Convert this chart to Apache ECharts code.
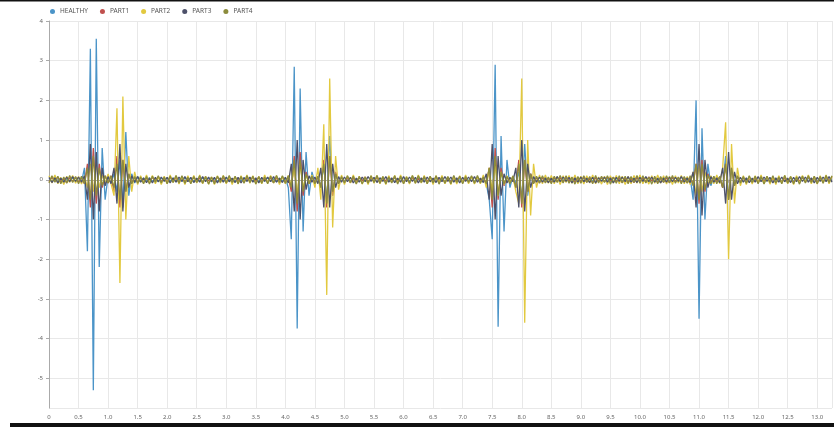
<!DOCTYPE html>
<html><head><meta charset="utf-8">
<script src="https://cdn.jsdelivr.net/npm/echarts@6/dist/echarts.min.js"></script>
<style>html,body{margin:0;padding:0;background:#fff}#c{width:834px;height:427px}</style>
</head><body><div id="c"></div>
<script>
const seriesNames = ['HEALTHY','PART1','PART2','PART3','PART4'];
const seriesColors = ['#4b94c8','#c0504d','#e2c93f','#4d516a','#8c8c3c'];
const sampleStep = 0.05; // seconds between samples, first sample at t = 0
const xTickLabels = {min:0, max:13.25, step:0.5};
const yTickLabels = {min:-5.75, max:4, step:1};

const healthy = [
.03,-.04,.05,-.02,.04,-.05,.02,-.03,.05,-.04,
.04,-.06,.3,-1.8,3.3,-5.3,3.55,-2.2,.8,-.5,
.1,-.08,.15,-.3,.5,-.7,1.2,-.4,.15,-.08,
.08,-.05,.04,-.03,.05,-.04,.03,-.05,.04,-.02,
.05,-.03,.04,-.05,.02,-.04,.05,-.03,.04,-.05,
.03,-.04,.05,-.02,.04,-.05,.03,-.04,.02,-.03,
.05,-.04,.03,-.05,.04,-.02,.05,-.03,.04,-.04,
.03,-.05,.04,-.03,.05,-.04,.02,-.05,.04,-.03,
.05,-.2,-1.5,2.85,-3.75,2.3,-1.3,.7,-.4,.2,
-.08,.06,-.15,.4,-.6,1.1,-.4,.15,-.08,.05,
-.04,.03,-.05,.04,-.03,.05,-.02,.04,-.05,.03,
-.04,.05,-.03,.04,-.05,.02,-.04,.05,-.03,.04,
-.05,.03,-.04,.05,-.02,.04,-.05,.03,-.04,.05,
-.03,.04,-.05,.02,-.04,.05,-.03,.04,-.05,.03,
-.04,.05,-.02,.04,-.05,.03,-.04,.05,-.1,-.5,
-1.5,2.9,-3.7,1.1,-1.3,.5,-.2,.1,-.1,.2,
-.5,.9,-.4,.15,-.08,.06,-.04,.05,-.03,.04,
-.05,.03,-.04,.05,-.02,.04,-.05,.03,-.04,.05,
-.03,.04,-.05,.02,-.04,.05,-.03,.04,-.05,.03,
-.04,.05,-.02,.04,-.05,.03,-.04,.05,-.03,.04,
-.05,.02,-.04,.05,-.03,.04,-.05,.03,-.04,.05,
-.02,.04,-.05,.03,-.04,.05,-.03,.06,-.5,2.0,
-3.5,1.3,-1.0,.4,-.15,.08,-.06,.08,-.2,.6,
-.5,.25,-.1,.06,-.05,.04,-.03,.05,-.04,.03,
-.05,.04,-.02,.05,-.03,.04,-.05,.02,-.04,.05,
-.03,.04,-.05,.03,-.04,.05,-.02,.04,-.05,.03,
-.04,.05,-.03,.04,-.05,.03];

const part1 = [
-.05,.06,-.04,.07,-.06,.03,-.07,.05,-.04,.06,
-.06,.05,-.1,.4,-.7,.8,-.6,.4,-.2,.1,
-.08,.1,-.3,.6,-.7,.5,-.3,.15,-.08,.06,
-.07,.05,-.06,.04,-.07,.06,-.03,.07,-.05,.04,
-.06,.07,-.04,.05,-.07,.06,-.05,.03,-.06,.07,
-.05,.04,-.07,.06,-.03,.05,-.06,.07,-.04,.05,
-.07,.03,-.05,.06,-.04,.07,-.06,.05,-.03,.06,
-.04,.07,-.05,.03,-.06,.05,-.07,.04,-.05,.06,
-.06,.08,-.3,.6,-.8,.7,-.4,.2,-.1,.08,
-.07,.06,-.2,.5,-.7,.6,-.4,.2,-.1,.06,
-.06,.05,-.07,.04,-.05,.06,-.03,.07,-.06,.05,
-.04,.06,-.07,.05,-.03,.06,-.05,.07,-.04,.05,
-.06,.04,-.07,.05,-.06,.03,-.05,.07,-.04,.06,
-.05,.07,-.03,.06,-.07,.04,-.06,.05,-.04,.07,
-.06,.03,-.05,.06,-.07,.05,-.04,.06,-.1,.3,
-.7,.8,-.5,.3,-.15,.08,-.06,.05,-.2,.5,
-.7,.5,-.3,.15,-.08,.05,-.07,.05,-.06,.04,
-.07,.06,-.04,.05,-.06,.07,-.03,.05,-.06,.04,
-.05,.07,-.06,.03,-.07,.05,-.04,.06,-.05,.07,
-.03,.06,-.05,.04,-.07,.05,-.06,.03,-.07,.06,
-.04,.05,-.06,.07,-.03,.05,-.07,.04,-.06,.05,
-.07,.06,-.04,.05,-.06,.03,-.07,.05,-.1,.4,
-.6,.5,-.3,.15,-.08,.06,-.05,.07,-.2,.4,
-.5,.3,-.15,.08,-.06,.05,-.06,.04,-.07,.05,
-.06,.07,-.04,.06,-.05,.03,-.07,.05,-.06,.04,
-.05,.06,-.07,.04,-.03,.06,-.05,.07,-.04,.05,
-.06,.04,-.05,.07,-.03,.06];

const part2 = [
.1,-.08,.12,-.1,.06,-.12,.09,-.07,.11,-.09,
.08,-.11,.1,-.2,.4,-.3,.4,-.2,.12,-.1,
.15,-.1,-.4,1.8,-2.6,2.1,-1.0,.6,-.3,.2,
-.12,.1,-.09,.12,-.08,.11,-.1,.07,-.12,.09,
-.1,.12,-.07,.1,-.11,.08,-.12,.1,-.09,.11,
-.08,.12,-.1,.09,-.11,.07,-.12,.1,-.08,.11,
-.1,.09,-.12,.08,-.11,.1,-.07,.12,-.09,.1,
-.11,.08,-.1,.12,-.09,.11,-.08,.1,-.12,.09,
-.1,.11,-.15,.3,-.4,.4,-.2,.12,-.1,.12,
-.2,.3,-.5,1.4,-2.9,2.55,-1.2,.6,-.25,.12,
-.12,.1,-.08,.12,-.1,.09,-.11,.07,-.12,.1,
-.09,.11,-.1,.08,-.12,.1,-.07,.11,-.09,.12,
-.1,.08,-.11,.1,-.09,.12,-.08,.11,-.1,.09,
-.12,.1,-.08,.11,-.1,.07,-.12,.09,-.11,.1,
-.08,.12,-.1,.09,-.11,.08,-.1,.12,-.2,.3,
-.3,.4,-.4,.2,-.12,.1,-.08,.1,-.3,-.6,
2.55,-3.6,1.0,-.9,.4,-.2,.12,-.1,.12,-.09,
.11,-.1,.08,-.12,.1,-.07,.11,-.09,.12,-.1,
.09,-.11,.1,-.08,.12,-.1,.07,-.11,.09,-.12,
.1,-.08,.11,-.1,.09,-.12,.08,-.1,.11,-.09,
.12,-.1,.07,-.11,.1,-.09,.12,-.08,.1,-.11,
.09,-.12,.1,-.08,.11,-.1,.08,-.12,.2,-.4,
.4,-.3,.2,-.12,.1,-.1,.12,-.1,.3,1.45,
-2.0,.9,-.6,.3,-.15,.1,-.12,.09,-.11,.1,
-.08,.12,-.1,.09,-.11,.07,-.12,.1,-.09,.11,
-.1,.08,-.12,.1,-.09,.11,-.07,.12,-.1,.09,
-.11,.1,-.08,.12,-.1,.09];

const part3 = [
.06,-.07,.05,-.08,.04,-.06,.07,-.05,.08,-.04,
.07,-.06,.1,-.5,.9,-1.0,.7,-.8,.3,-.15,
.08,-.1,.3,-.6,.9,-.8,.4,-.2,.1,-.06,
.08,-.06,.05,-.07,.04,-.08,.06,-.05,.07,-.04,
.06,-.08,.05,-.06,.07,-.04,.08,-.05,.06,-.07,
.04,-.06,.08,-.05,.07,-.04,.06,-.08,.05,-.06,
.07,-.05,.04,-.07,.06,-.08,.05,-.04,.07,-.06,
.05,-.08,.06,-.04,.07,-.05,.08,-.06,.04,-.07,
.06,-.08,.4,-.8,1.0,-1.0,.5,-.25,.1,-.06,
.07,-.1,.3,-.7,.9,-.7,.4,-.2,.08,-.06,
.07,-.05,.06,-.08,.04,-.06,.07,-.05,.08,-.04,
.06,-.07,.05,-.04,.08,-.06,.05,-.07,.04,-.06,
.08,-.05,.07,-.04,.06,-.08,.05,-.06,.07,-.05,
.04,-.07,.06,-.05,.08,-.04,.07,-.06,.05,-.08,
.06,-.04,.07,-.05,.08,-.06,.04,-.07,.15,-.5,
.9,-1.0,.6,-.4,.15,-.08,.06,-.05,.3,-.7,
1.0,-.8,.4,-.2,.08,-.06,.07,-.06,.05,-.07,
.04,-.06,.08,-.05,.07,-.04,.06,-.08,.05,-.06,
.07,-.05,.04,-.07,.06,-.08,.05,-.04,.07,-.06,
.05,-.08,.06,-.04,.07,-.05,.08,-.06,.04,-.07,
.06,-.04,.08,-.05,.07,-.06,.04,-.08,.05,-.06,
.07,-.05,.06,-.04,.08,-.06,.05,-.07,.2,-.7,
.9,-.9,.5,-.2,.08,-.06,.05,-.07,.3,-.6,
.7,-.5,.2,-.1,.06,-.06,.05,-.07,.04,-.06,
.08,-.05,.07,-.04,.06,-.08,.05,-.06,.07,-.05,
.04,-.07,.06,-.05,.08,-.04,.07,-.06,.05,-.08,
.06,-.04,.07,-.05,.08,-.06];

const part4 = [
-.08,.1,-.06,.09,-.1,.07,-.09,.11,-.07,.08,
-.1,.09,-.1,.3,-.5,.6,-.4,.3,-.15,.1,
-.08,.1,-.2,.4,-.5,.5,-.3,.15,-.1,.08,
-.09,.07,-.1,.08,-.11,.09,-.06,.1,-.08,.07,
-.1,.09,-.07,.11,-.08,.1,-.09,.06,-.1,.08,
-.07,.1,-.09,.08,-.11,.07,-.1,.09,-.06,.1,
-.08,.11,-.07,.09,-.1,.08,-.09,.1,-.07,.09,
-.11,.08,-.09,.07,-.1,.09,-.08,.11,-.07,.1,
-.09,.1,-.2,.5,-.6,.5,-.3,.15,-.1,.09,
-.1,.09,-.2,.4,-.6,.6,-.3,.15,-.1,.08,
-.08,.1,-.07,.09,-.11,.08,-.1,.07,-.09,.1,
-.07,.11,-.09,.08,-.1,.07,-.08,.1,-.11,.09,
-.1,.07,-.08,.11,-.09,.1,-.07,.08,-.1,.09,
-.08,.1,-.11,.07,-.09,.08,-.1,.11,-.07,.09,
-.1,.08,-.07,.1,-.09,.11,-.08,.07,-.1,.3,
-.5,.6,-.4,.2,-.1,.08,-.1,.09,-.2,.4,
-.6,.5,-.3,.15,-.1,.09,-.09,.1,-.08,.07,
-.1,.09,-.07,.11,-.08,.1,-.09,.07,-.11,.08,
-.09,.1,-.07,.08,-.1,.11,-.08,.09,-.07,.1,
-.11,.07,-.09,.1,-.08,.09,-.1,.08,-.07,.11,
-.09,.1,-.08,.07,-.11,.09,-.1,.08,-.07,.1,
-.08,.11,-.09,.07,-.1,.08,-.09,.1,-.15,.4,
-.5,.4,-.25,.12,-.1,.09,-.1,.08,-.2,.4,
-.5,.3,-.15,.1,-.08,.08,-.09,.1,-.07,.09,
-.1,.08,-.11,.09,-.07,.1,-.08,.07,-.1,.11,
-.09,.08,-.1,.07,-.11,.09,-.08,.1,-.07,.09,
-.1,.08,-.09,.11,-.07,.1];

const allValues = [healthy, part1, part2, part3, part4];

const chart = echarts.init(document.getElementById('c'), null, {renderer:'canvas'});
const axisText = {color:'#666', fontSize:6, fontFamily:'Noto Sans'};
chart.setOption({
  animation:false,
  backgroundColor:'#fff',
  color: seriesColors,
  legend:{
    data: seriesNames, left:45, top:3, icon:'circle', itemWidth:5, itemHeight:5,
    itemGap:12, textStyle:{color:'#555', fontSize:6.5, fontFamily:'Noto Sans'}
  },
  grid:{left:49, right:2, top:21, bottom:19, containLabel:false},
  xAxis:{
    type:'value', min:xTickLabels.min, max:xTickLabels.max, interval:xTickLabels.step,
    axisLine:{lineStyle:{color:'#aaa'}}, axisTick:{show:true, length:3, lineStyle:{color:'#aaa'}},
    axisLabel:{...axisText, margin:6, showMaxLabel:false, formatter:v => v===0 ? '0' : v.toFixed(1)},
    splitLine:{show:true, lineStyle:{color:'#e8e8e8', width:1}}
  },
  yAxis:{
    type:'value', min:yTickLabels.min, max:yTickLabels.max,
    splitNumber:10, minInterval:yTickLabels.step, maxInterval:yTickLabels.step,
    axisLine:{show:true, lineStyle:{color:'#aaa'}}, axisTick:{show:true, length:3, lineStyle:{color:'#aaa'}},
    axisLabel:{...axisText, margin:6, showMinLabel:false, formatter:v => Number.isInteger(v) ? String(v) : ''},
    splitLine:{show:true, lineStyle:{color:'#e8e8e8', width:1}}
  },
  graphic:[
    {type:'rect', left:0, top:0, shape:{width:834, height:1.5}, style:{fill:'#111'}, silent:true},
    {type:'rect', left:10, top:423, shape:{width:824, height:4}, style:{fill:'#111'}, silent:true}
  ],
  series: seriesNames.map((name, k) => ({
    name, type:'line', showSymbol:false, symbol:'none', sampling:null,
    lineStyle:{width:1.3, color:seriesColors[k]},
    data: allValues[k].map((v, i) => [+(i*sampleStep).toFixed(2), v])
  }))
});
</script></body></html>
